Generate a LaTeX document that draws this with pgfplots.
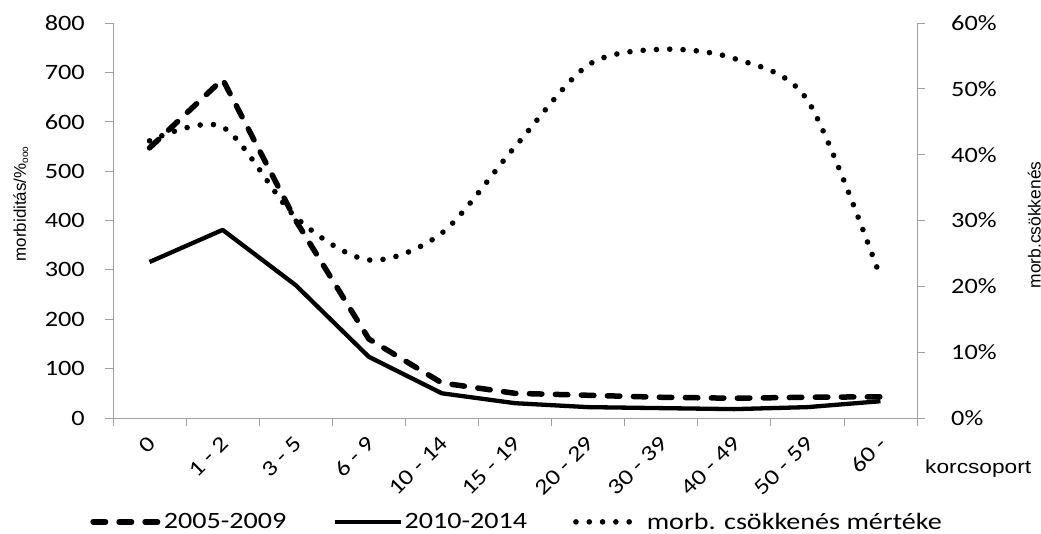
\documentclass[border=0pt]{standalone}
\usepackage{fontspec}
\usepackage{pgfplots}
\pgfplotsset{compat=1.18}
\setmainfont{Carlito}
\newfontfamily\tck[FakeStretch=1.2]{Carlito}
\newfontfamily\arl{Liberation Sans}
\newfontfamily\arlw[FakeStretch=1.2]{Liberation Sans}
\definecolor{axgray}{RGB}{160,160,160}
\begin{document}
\begin{tikzpicture}
\begin{axis}[
  at={(0,0)}, anchor=south west,
  width=804bp, height=395bp, scale only axis,
  xmin=-0.5, xmax=10.5, ymin=0, ymax=800,
  axis y line*=left, axis x line*=bottom,
  axis line style={axgray, line width=0.8bp},
  tick style={axgray, line width=0.8bp},
  tick align=outside, major tick length=8bp,
  xtick={-0.5,0.5,1.5,2.5,3.5,4.5,5.5,6.5,7.5,8.5,9.5,10.5},
  xticklabels={0,1 - 2,3 - 5,6 - 9,10 - 14,15 - 19,20 - 29,30 - 39,40 - 49,50 - 59,60 -,{}},
  xticklabel style={inner sep=0pt, anchor=east, xshift=39bp, yshift=-14bp, rotate=45},
  ytick={0,100,200,300,400,500,600,700,800},
  yticklabels={0,100,200,300,400,500,600,700,800},
  yticklabel style={inner sep=0pt, anchor=east, xshift=-20bp},
  ticklabel style={font=\tck\fontsize{22}{22}\selectfont},
  legend columns=3,
  legend style={draw=none, at={(0.5025,-0.263)}, anchor=center,
    font=\tck\fontsize{23.5}{26}\selectfont,
    nodes={inner xsep=2bp, inner ysep=0bp},
    /tikz/every even column/.append style={column sep=44bp}},
  legend image code/.code={\draw[#1] (0bp,0bp) -- (66bp,0bp);},
]
\addplot[black, line width=5.5bp, dash pattern=on 12.5bp off 13.5bp, line cap=round, line join=round]
  coordinates {(0,547) (1,686) (2,400) (3,160) (4,71) (5,50) (6,46) (7,42) (8,40) (9,42) (10,43)};
\addlegendentry{2005-2009}
\addplot[black, line width=4.3bp, line join=round]
  coordinates {(0,316) (1,381) (2,269) (3,124) (4,50) (5,30) (6,22) (7,20) (8,18) (9,22) (10,34)};
\addlegendentry{2010-2014}
\addlegendimage{black, line width=5.6bp, dash pattern=on 0bp off 13.3bp, line cap=round}
\addlegendentry{morb. csökkenés mértéke}
\end{axis}
\begin{axis}[
  at={(0,0)}, anchor=south west,
  width=804bp, height=395bp, scale only axis,
  xmin=-0.5, xmax=10.5, ymin=0, ymax=0.6,
  axis y line*=right, axis x line=none,
  axis line style={axgray, line width=0.8bp},
  tick style={axgray, line width=0.8bp},
  tick align=outside, major tick length=8bp,
  ytick={0,0.1,0.2,0.3,0.4,0.5,0.6},
  yticklabels={0\%,10\%,20\%,30\%,40\%,50\%,60\%},
  yticklabel style={inner sep=0pt, anchor=west, xshift=26bp},
  ticklabel style={font=\tck\fontsize{22}{22}\selectfont},
]
\addplot[black, line width=5.6bp, dash pattern=on 0bp off 13.3bp, line cap=round, smooth]
  coordinates {(0,0.421) (1,0.442) (2,0.305) (3,0.240) (4,0.281) (5,0.412) (6,0.536) (7,0.560) (8,0.546) (9,0.483) (10,0.214)};
\end{axis}
\node[rotate=90, anchor=base, inner sep=0pt, font=\arl\fontsize{17}{17}\selectfont] at (-87bp,214bp)
  {morbiditás/\%\raisebox{-0.25ex}{\fontsize{10}{10}\selectfont ooo}};
\node[rotate=90, anchor=base, inner sep=0pt, font=\arl\fontsize{17.5}{17.5}\selectfont] at (927.5bp,193bp)
  {morb.csökkenés};
\node[anchor=base west, inner sep=0pt, font=\arlw\fontsize{19}{19}\selectfont] at (812bp,-55bp) {korcsoport};
\pgfresetboundingbox
\path[use as bounding box] (-113bp,-116bp) rectangle (928bp,418bp);
\end{tikzpicture}
\end{document}
